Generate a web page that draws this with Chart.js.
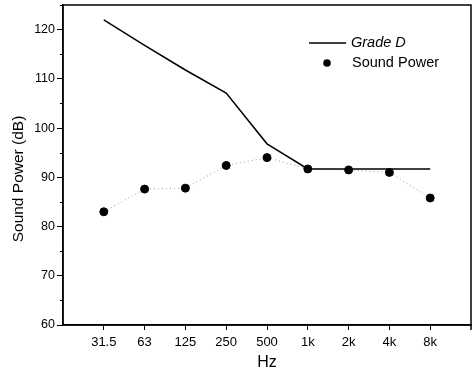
<!DOCTYPE html>
<html>
<head>
<meta charset="utf-8">
<script src="https://cdn.jsdelivr.net/npm/chart.js@4/dist/chart.umd.min.js"></script>
<style>
  html, body { margin: 0; padding: 0; background: #fff; }
  #wrap { width: 472px; height: 374px; }
</style>
</head>
<body>
<div id="wrap"><canvas id="powerChart" width="472" height="374"></canvas></div>
<script>
// Data
const freqLabels = ['31.5', '63', '125', '250', '500', '1k', '2k', '4k', '8k'];
const gradeD = [122, 116.8, 111.8, 107.1, 96.8, 91.7, 91.7, 91.7, 91.7];
const soundPower = [83.0, 87.6, 87.8, 92.4, 94.0, 91.7, 91.5, 91.0, 85.8];
const yTicks = [60, 70, 80, 90, 100, 110, 120];

const FONT = 'Liberation Sans, Arial, Helvetica, sans-serif';

// frame, minor ticks, y title and legend
const framePlugin = {
  id: 'frame',
  afterDraw(chart) {
    const ctx = chart.ctx;
    const a = chart.chartArea;
    const y = chart.scales.y;
    ctx.save();
    ctx.strokeStyle = '#000';
    ctx.lineWidth = 1.5;
    ctx.strokeRect(a.left, a.top, a.right - a.left, a.bottom - a.top);
    // tick at right end of x axis
    ctx.beginPath();
    ctx.moveTo(a.right, a.bottom);
    ctx.lineTo(a.right, a.bottom + 5);
    ctx.stroke();

    // minor y ticks
    ctx.lineWidth = 1;
    for (let v = 65; v <= 125; v += 10) {
      const py = Math.round(y.getPixelForValue(v)) + 0.5;
      ctx.beginPath();
      ctx.moveTo(a.left - 3, py);
      ctx.lineTo(a.left, py);
      ctx.stroke();
    }

    // y title
    ctx.fillStyle = '#000';
    ctx.save();
    ctx.translate(19, 179);
    ctx.rotate(-Math.PI / 2);
    ctx.textAlign = 'center';
    ctx.textBaseline = 'middle';
    ctx.font = '15.5px ' + FONT;
    ctx.fillText('Sound Power (dB)', 0, 0);
    ctx.restore();

    // legend
    ctx.lineWidth = 1.5;
    ctx.beginPath();
    ctx.moveTo(309, 43);
    ctx.lineTo(346, 43);
    ctx.stroke();
    ctx.beginPath();
    ctx.arc(327, 63, 3.8, 0, Math.PI * 2);
    ctx.fill();
    ctx.textBaseline = 'middle';
    ctx.font = 'italic 14.5px ' + FONT;
    ctx.fillText('Grade D', 351, 43);
    ctx.font = '14.5px ' + FONT;
    ctx.fillText('Sound Power', 352, 63);
    ctx.restore();
  }
};

new Chart(document.getElementById('powerChart'), {
  type: 'line',
  data: {
    datasets: [
      {
        label: 'Grade D',
        data: gradeD.map((v, i) => ({ x: i, y: v })),
        borderColor: '#000',
        borderWidth: 1.5,
        pointRadius: 0,
        tension: 0,
      },
      {
        label: 'Sound Power',
        data: soundPower.map((v, i) => ({ x: i, y: v })),
        borderColor: '#999',
        borderWidth: 1,
        borderDash: [1, 3],
        pointRadius: 4,
        pointBackgroundColor: '#000',
        pointBorderColor: '#000',
        tension: 0,
      },
    ],
  },
  options: {
    responsive: false,
    animation: false,
    layout: { autoPadding: false, padding: { top: 5, right: 1, left: 0, bottom: 0 } },
    plugins: {
      legend: { display: false },
      tooltip: { enabled: false },
    },
    scales: {
      x: {
        type: 'linear',
        min: -1,
        max: 9,
        afterBuildTicks: (s) => { s.ticks = freqLabels.map((_, i) => ({ value: i })); },
        afterFit: (s) => { s.height = 49; },
        ticks: {
          color: '#000',
          font: { family: FONT, size: 13 },
          padding: 5,
          maxRotation: 0,
          callback: (v) => freqLabels[v],
        },
        grid: { drawOnChartArea: false, color: '#000', tickLength: 5 },
        border: { color: '#000', width: 1.5 },
        title: {
          display: true,
          text: 'Hz',
          color: '#000',
          font: { family: FONT, size: 16 },
          padding: { top: 0, bottom: 2 },
        },
      },
      y: {
        min: 60,
        max: 125,
        afterBuildTicks: (s) => { s.ticks = yTicks.map((v) => ({ value: v })); },
        afterFit: (s) => { s.width = 63; s.paddingTop = 0; s.paddingBottom = 0; },
        ticks: {
          color: '#000',
          font: { family: FONT, size: 12.5 },
          padding: 2,
        },
        grid: { drawOnChartArea: false, color: '#000', tickLength: 6 },
        border: { color: '#000', width: 1.5 },
      },
    },
  },
  plugins: [framePlugin],
});
</script>
</body>
</html>
